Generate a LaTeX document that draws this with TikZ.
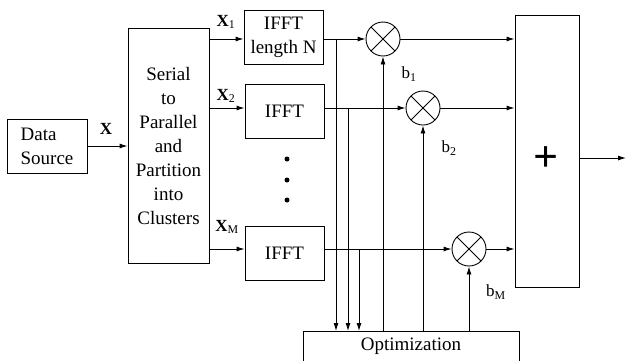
\documentclass[tikz,border=0pt]{standalone}
\usepackage{fontspec}
\setmainfont{Liberation Serif}
\usetikzlibrary{arrows.meta}
\tikzset{>={Latex[length=8pt,width=5pt]}}
\tikzset{block/.style={draw, align=center, inner sep=0pt},
  mult/.style={draw, circle, minimum size=34pt, inner sep=0pt,
    path picture={\draw[line width=0.8pt] (path picture bounding box.south west) -- (path picture bounding box.north east)
      (path picture bounding box.north west) -- (path picture bounding box.south east);}},
  lbl/.style={inner sep=0pt, font=\fontsize{17}{17}\selectfont}}

\begin{document}
\begin{tikzpicture}[x=1pt, y=-1pt, line width=0.9pt, font=\fontsize{19}{24}\selectfont]
    \useasboundingbox (0,0) rectangle (627,360);

    %source and splitter
    \node[block, align=left, minimum width=80pt, minimum height=54pt] (src) at (47,146) {Data\\Source};
    \node[block, minimum width=81pt, minimum height=235pt] (sp) at (168.5,145.5) {Serial\\to\\Parallel\\and\\Partition\\into\\Clusters};
    \draw[->] (src.east) -- (src.east -| sp.west);
    \node[lbl] (x) at (106,129) {\textbf{X}};

    %IFFT blocks
    \node[block, minimum width=79pt, minimum height=54pt] (ifft1) at (283.5,37) {IFFT\\length N};
    \node[block, minimum width=79pt, minimum height=54pt] (ifft2) at (284.5,111) {IFFT};
    \node[block, minimum width=79pt, minimum height=54pt] (ifftM) at (284.5,253) {IFFT};
    \foreach \y in {159,180,200}
        \fill (287,\y) circle (2.5pt);

    %multipliers
    \node[mult] (m1) at (383,39) {};
    \node[mult] (m2) at (423,108) {};
    \node[mult] (mM) at (469,249) {};

    %sum and optimization
    \node[block, minimum width=64pt, minimum height=272pt] (sum) at (547,151) {};
    \node[font=\fontsize{44}{44}\selectfont\bfseries] (plus) at (546,159) {+};
    \node[block, anchor=north, minimum width=216pt, minimum height=30pt] (opt) at (411,331) {Optimization};

    \coordinate (br1) at (336,39);
    \coordinate (br2) at (348,108);
    \coordinate (brM) at (359,249);
    \coordinate (out) at (626,158);

    % X arrows
    \draw[->] (m1 -| sp.east) -- (m1 -| ifft1.west);
    \draw[->] (m2 -| sp.east) -- (m2 -| ifft2.west);
    \draw[->] (mM -| sp.east) -- (mM -| ifftM.west);
    \node[lbl] (x1) at (226,22) {\textbf{X}\textsubscript{1}};
    \node[lbl] (x2) at (226,96) {\textbf{X}\textsubscript{2}};
    \node[lbl] (xM) at (227,227) {\textbf{X}\textsubscript{M}};

    % to the multipliers and the sum
    \draw[->] (m1 -| ifft1.east) -- (m1.west);
    \draw[->] (m2 -| ifft2.east) -- (m2.west);
    \draw[->] (mM -| ifftM.east) -- (mM.west);
    \draw[->] (m1.east) -- (m1 -| sum.west);
    \draw[->] (m2.east) -- (m2 -| sum.west);
    \draw[->] (mM.east) -- (mM -| sum.west);
    \draw[->] (sum.east |- out) -- (out);

    % down to optimization
    \draw[->] (br1) -- (br1 |- opt.north);
    \draw[->] (br2) -- (br2 |- opt.north);
    \draw[->] (brM) -- (brM |- opt.north);

    % weights
    \draw[->] (m1 |- opt.north) -- (m1.south);
    \draw[->] (m2 |- opt.north) -- (m2.south);
    \draw[->] (mM |- opt.north) -- (mM.south);
    \node[lbl] (b1) at (409,74) {b\textsubscript{1}};
    \node[lbl] (b2) at (449,148) {b\textsubscript{2}};
    \node[lbl] (bM) at (496,292) {b\textsubscript{M}};
\end{tikzpicture}
\end{document}
